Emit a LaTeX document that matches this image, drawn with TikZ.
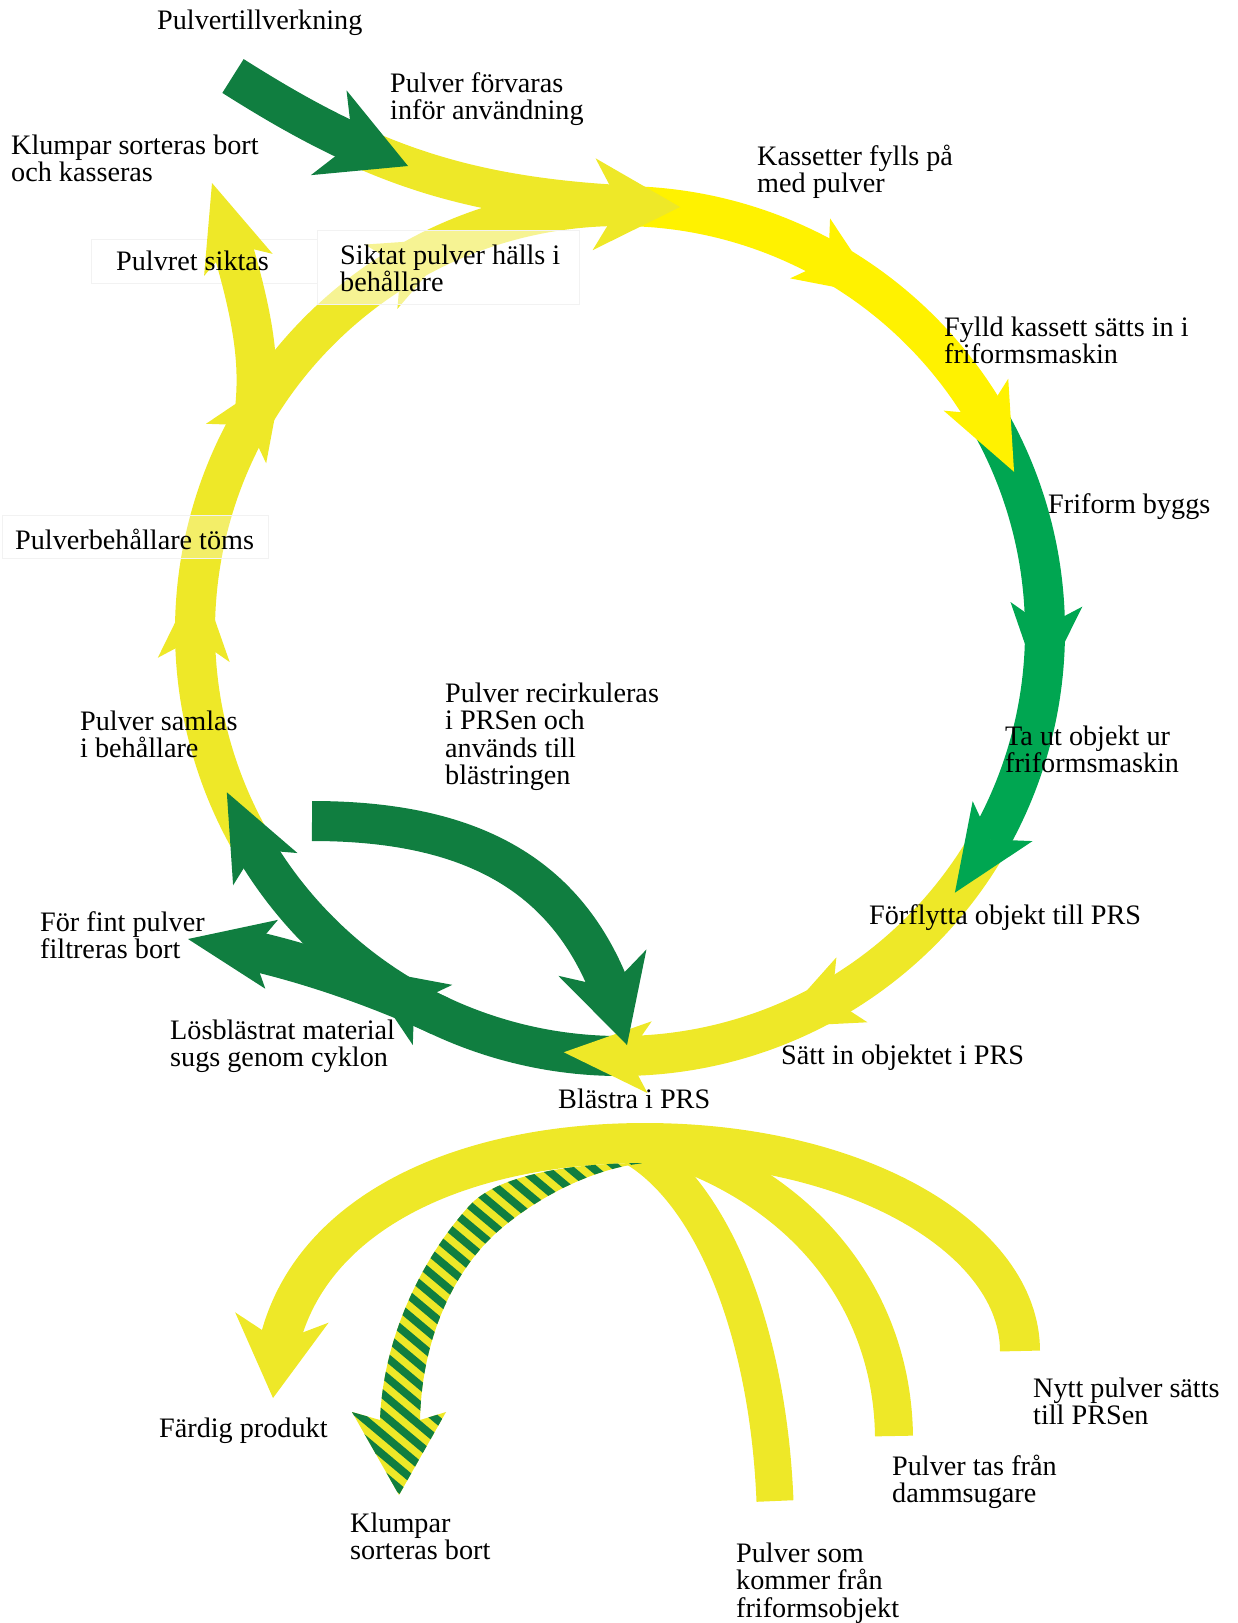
\documentclass[tikz,border=0pt]{standalone}
\usepackage{fontspec}
\setmainfont{Liberation Serif}
\usetikzlibrary{arrows.meta,bending}
\definecolor{lemon}{RGB}{238,232,40}
\definecolor{sun}{RGB}{255,242,0}
\definecolor{leaf}{RGB}{0,166,81}
\definecolor{forest}{RGB}{16,126,64}
% stacked text lines, baseline = first line
\newcommand\rows[1]{\vtop{\halign{##\hfil\cr#1\crcr}}}
% one segment of the main loop (centre O, radius 425)
\newcommand\ringseg[3]{\draw[band,#1] ([shift={(#2:425)}]O) arc[start angle=#2,end angle=#3,radius=425];}
\begin{document}
\begin{tikzpicture}[x=1pt,y=-1pt,
  band/.style={line width=40pt},
  ringhead/.style={-{Stealth[length=86pt,width=72pt,inset=22pt,line width=0pt,flex]}},
  bighead/.style={-{Stealth[length=86pt,width=92pt,inset=26pt,line width=0pt,flex]}},
  txt/.style={anchor=base west,inner sep=0pt,font=\fontsize{28.2}{27.5}\selectfont},
  faint/.style={draw=black!5,line width=1pt},
]
\useasboundingbox (0,0) rectangle (1238,1623);
\coordinate (O) at (620,631);

% label box lying under the sieve branch
\path[fill=white,faint] (91,239) rectangle (317,283);

% ---- lower fan around the PRS ----
\draw[band,lemon,-{Stealth[length=81pt,width=94pt,inset=24pt,line width=0pt,flex]}]
  (1020,1351) .. controls (1020,1240) and (860,1143) .. (645,1143)
  .. controls (440,1143) and (272,1230) .. (273,1398);
\draw[line width=38pt,lemon] (894,1436) .. controls (892,1295) and (800,1185) .. (655,1142);
\draw[line width=37pt,lemon] (775,1501) .. controls (768,1330) and (712,1190) .. (630,1145);
% striped arrow: lumps sorted out
\begin{scope}
  \clip (645,1163) .. controls (560,1163) and (495,1178) .. (470,1205)
    .. controls (420,1260) and (383,1340) .. (380,1420) -- (352,1412) -- (399,1495)
    -- (446,1412) -- (420,1420) .. controls (422,1330) and (460,1262) .. (503,1227)
    .. controls (545,1192) and (600,1167) .. (645,1163) -- cycle;
  \fill[lemon] (300,1100) rectangle (700,1520);
  \foreach \c in {-400,-376,...,700}
    \draw[forest,line width=7.8pt] (\c,1100) -- ({\c+620},1620);
\end{scope}

% ---- left side of the loop, flowing upward ----
\ringseg{lemon,ringhead}{150}{187.7}
\ringseg{lemon,ringhead}{180}{217.6}
\ringseg{lemon,ringhead}{210}{247.6}
\ringseg{lemon}{240}{272}
\draw[band,lemon,ringhead] (255,410) .. controls (260,360) and (255,310) .. (212,183);

% ---- blasted material through the cyclone ----
\ringseg{forest,ringhead}{89}{127.6}
\ringseg{forest,ringhead}{120}{157.7}
\draw[band,forest,-{Stealth[length=85pt,width=70pt,inset=20pt,line width=0pt,flex]}]
  (440,1016) .. controls (386,991) and (287,952) .. (188,939);

% ---- object moved to the PRS ----
\ringseg{lemon,ringhead}{28}{68.7}
\ringseg{lemon,ringhead}{60}{97.6}

% ---- recirculated powder ----
\draw[band,forest,bighead] (312,821) .. controls (480,821) and (590,880) .. (627,1045);

% ---- freeform build ----
\ringseg{leaf,ringhead}{-30}{8}
\ringseg{leaf,ringhead}{0}{38}

% ---- cassette filling ----
\ringseg{sun,ringhead}{-88.5}{-52}
\ringseg{sun,ringhead}{-62}{-22}

% ---- stored powder and powder production ----
\draw[band,lemon,bighead] (350,143) .. controls (430,180) and (520,205) .. (680,207);
\draw[band,forest,bighead] (233,76) .. controls (290,112) and (340,140) .. (408,166);

% translucent label boxes over the bands
\path[fill=white,fill opacity=0.5,faint] (317,230) rectangle (579,304);
\path[fill=white,fill opacity=0.3,faint] (2,515) rectangle (268,558);

% ---- labels ----
\node[txt] (tillv) at (157,29) {Pulvertillverkning};
\node[txt] (forv) at (390,92) {\rows{Pulver förvaras\cr inför användning}};
\node[txt] (kasseras) at (11,154) {\rows{Klumpar sorteras bort\cr och kasseras}};
\node[txt] (kass) at (757,165) {\rows{Kassetter fylls på\cr med pulver}};
\node[txt] (siktas) at (116,270) {Pulvret siktas};
\node[txt] (siktat) at (340,264) {\rows{Siktat pulver hälls i\cr behållare}};
\node[txt] (fylld) at (944,336) {\rows{Fylld kassett sätts in i\cr friformsmaskin}};
\node[txt] (bygg) at (1048,513) {Friform byggs};
\node[txt] (toms) at (15,549) {Pulverbehållare töms};
\node[txt] (recirk) at (445,702) {\rows{Pulver recirkuleras\cr i PRSen och\cr används till\cr blästringen}};
\node[txt] (samlas) at (80,730) {\rows{Pulver samlas\cr i behållare}};
\node[txt] (tautt) at (1005,745) {\rows{Ta ut objekt ur\cr friformsmaskin}};
\node[txt] (forfl) at (869,924) {Förflytta objekt till PRS};
\node[txt] (fint) at (40,931) {\rows{För fint pulver\cr filtreras bort}};
\node[txt] (losbl) at (170,1039) {\rows{Lösblästrat material\cr sugs genom cyklon}};
\node[txt] (satt) at (781,1064) {Sätt in objektet i PRS};
\node[txt] (blast) at (558,1108) {Blästra i PRS};
\node[txt] (nytt) at (1033,1397) {\rows{Nytt pulver sätts\cr till PRSen}};
\node[txt] (fardig) at (159,1437) {Färdig produkt};
\node[txt] (damm) at (892,1475) {\rows{Pulver tas från\cr dammsugare}};
\node[txt] (klumpar) at (350,1532) {\rows{Klumpar\cr sorteras bort}};
\node[txt] (frif) at (736,1562) {\rows{Pulver som\cr kommer från\cr friformsobjekt}};
\end{tikzpicture}
\end{document}
